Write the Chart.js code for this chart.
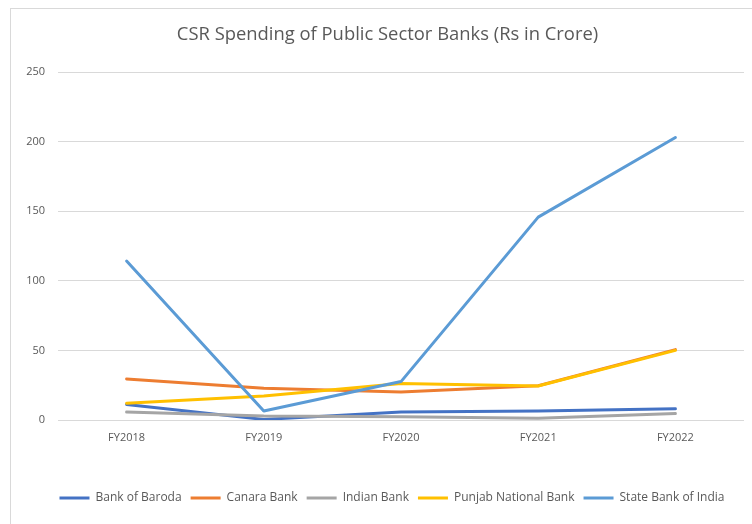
<!DOCTYPE html>
<html>
<head>
<meta charset="utf-8">
<script src="https://cdn.jsdelivr.net/npm/chart.js@4.4.1/dist/chart.umd.min.js"></script>
<style>
  html, body { margin: 0; padding: 0; background: #fff; }
  #wrap { position: relative; width: 752px; height: 524px; }
  #frame { position: absolute; left: 10px; top: 8px; width: 760px; height: 540px; border-left: 1px solid #d9d9d9; border-top: 1px solid #d9d9d9; box-sizing: border-box; pointer-events: none; }
  canvas { position: absolute; left: 0; top: 0; }
</style>
</head>
<body>
<div id="wrap">
  <canvas id="c" width="752" height="524"></canvas>
  <div id="frame"></div>
</div>
<script>
const categories = ["FY2018", "FY2019", "FY2020", "FY2021", "FY2022"];
const seriesNames = ["Bank of Baroda", "Canara Bank", "Indian Bank", "Punjab National Bank", "State Bank of India"];
const bankOfBaroda = [11.2, 0.4, 5.8, 6.5, 8.0];
const canaraBank = [29.5, 22.9, 20.2, 24.6, 50.6];
const indianBank = [5.8, 2.9, 2.4, 1.3, 4.6];
const punjabNationalBank = [12.0, 17.3, 26.3, 24.4, 50.0];
const stateBankOfIndia = [114.2, 6.5, 27.6, 145.8, 203.0];
const yTicks = [0, 50, 100, 150, 200, 250];

const colors = ["#4472C4", "#ED7D31", "#A5A5A5", "#FFC000", "#5B9BD5"];
const values = [bankOfBaroda, canaraBank, indianBank, punjabNationalBank, stateBankOfIndia];

const datasets = seriesNames.map((name, i) => ({
  label: name,
  data: values[i],
  borderColor: colors[i],
  backgroundColor: colors[i],
  borderWidth: 3,
  pointRadius: 0,
  tension: 0,
  fill: false,
  order: seriesNames.length - i,
  borderCapStyle: 'round',
  borderJoinStyle: 'round'
}));

const txt = "#595959";
const fam = "'Open Sans', Lato, sans-serif";

const blockShift = {
  id: 'blockShift',
  afterLayout(chart) {
    if (chart.titleBlock) { chart.titleBlock.left = 23; chart.titleBlock.right = 752; }
    if (chart.legend) { chart.legend.left = 40; chart.legend.right = 744; }
  }
};

new Chart(document.getElementById("c"), {
  type: "line",
  data: { labels: categories, datasets },
  plugins: [blockShift],
  options: {
    responsive: false,
    animation: false,
    devicePixelRatio: 1,
    layout: { padding: { left: 0, right: 8, top: 0, bottom: 10 } },
    plugins: {
      tooltip: { enabled: false },
      title: {
        display: true,
        text: "CSR Spending of Public Sector Banks (Rs in Crore)",
        color: txt,
        font: { family: fam, size: 18.4, weight: "normal" },
        padding: { top: 24, bottom: 26 }
      },
      legend: {
        position: "bottom",
        labels: {
          color: txt,
          font: { family: fam, size: 12 },
          boxWidth: 30,
          boxHeight: 3,
          padding: 9,
          sort: (a, b) => a.datasetIndex - b.datasetIndex,
          generateLabels: (chart) => chart.data.datasets.map((d, i) => ({
            text: d.label,
            fillStyle: d.borderColor,
            strokeStyle: d.borderColor,
            lineWidth: 0,
            fontColor: txt,
            hidden: false,
            datasetIndex: i
          }))
        }
      }
    },
    scales: {
      x: {
        offset: true,
        grid: { display: false, drawTicks: false },
        border: { display: false },
        ticks: { color: txt, font: { family: fam, size: 11 }, padding: 11, maxRotation: 0 },
        afterFit: (s) => { s.height = 63; }
      },
      y: {
        min: 0,
        max: 250,
        afterBuildTicks: (s) => { s.ticks = yTicks.map(v => ({ value: v })); },
        grid: { color: "#d9d9d9", lineWidth: 1, drawTicks: false },
        border: { display: false },
        ticks: { color: txt, font: { family: fam, size: 11 }, padding: 13 },
        afterFit: (s) => { s.width = 58; }
      }
    }
  }
});
</script>
</body>
</html>
